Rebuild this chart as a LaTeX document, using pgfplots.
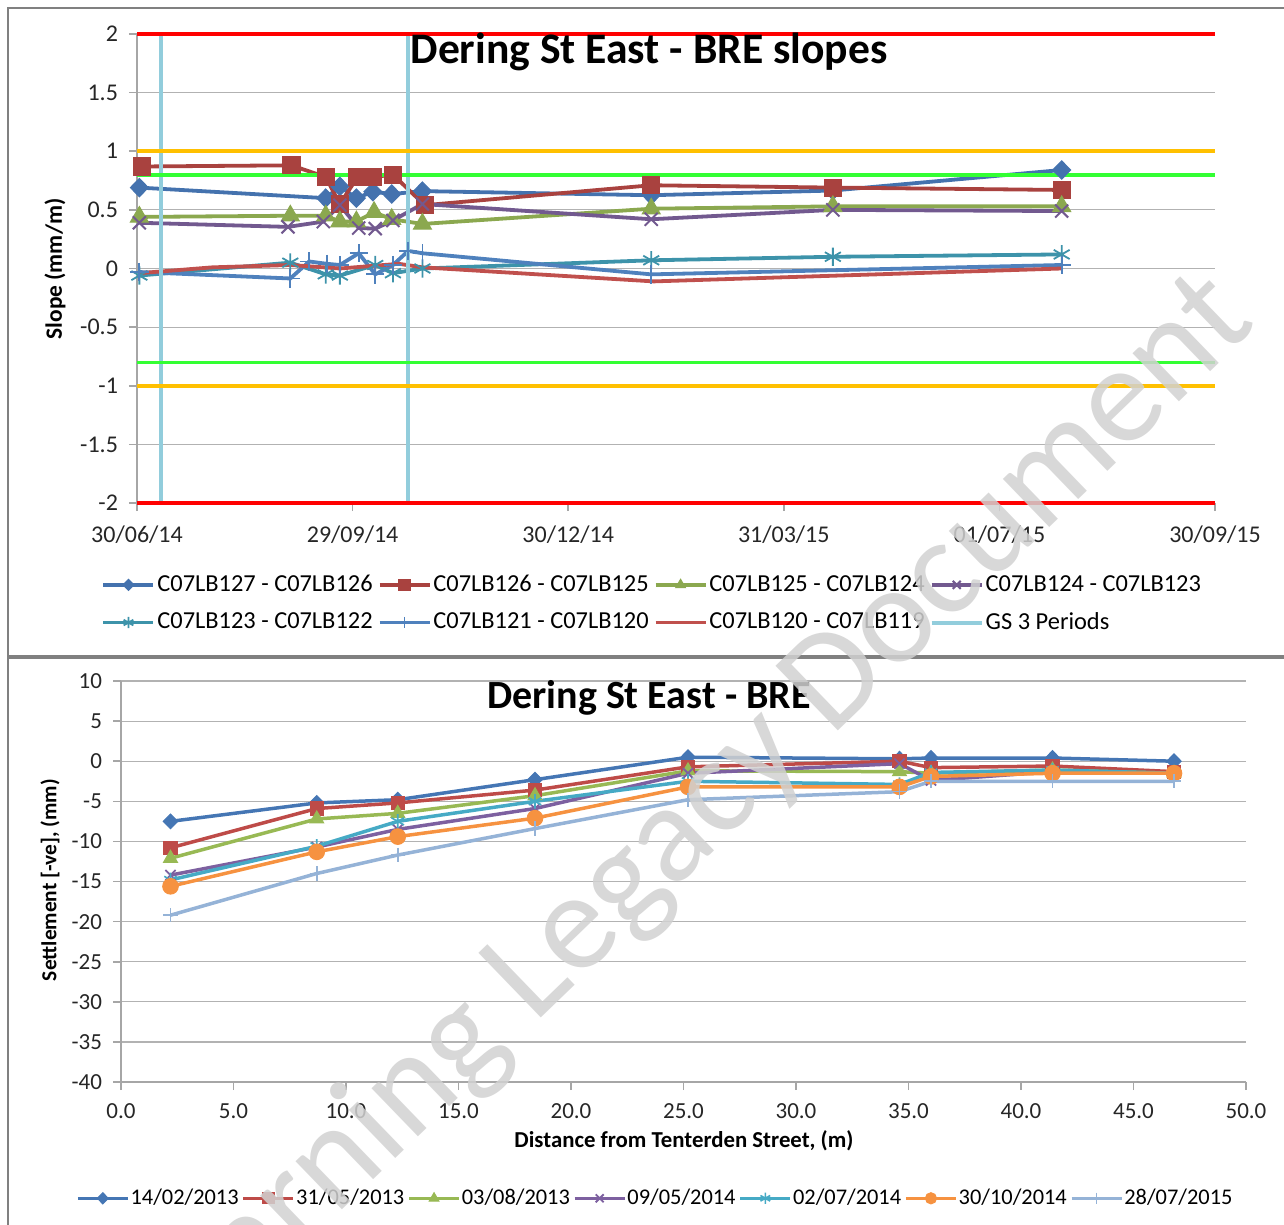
\documentclass[border=0pt]{standalone}
\usepackage{pgfplots}
\pgfplotsset{compat=1.18}
\usepackage{fontspec}
\setmainfont{Carlito}

\definecolor{tA}{HTML}{4472AE}
\definecolor{tB}{HTML}{A9423F}
\definecolor{tC}{HTML}{8BA84F}
\definecolor{tD}{HTML}{72598F}
\definecolor{tE}{HTML}{3D93AA}
\definecolor{tF}{HTML}{4F81BD}
\definecolor{tG}{HTML}{C0504D}
\definecolor{gs}{HTML}{92CDDC}
\definecolor{thr}{HTML}{FF0000}
\definecolor{tho}{HTML}{FFC000}
\definecolor{thg}{HTML}{33FF33}
\definecolor{bA}{HTML}{4576B4}
\definecolor{bB}{HTML}{BE4B48}
\definecolor{bC}{HTML}{98B954}
\definecolor{bD}{HTML}{7D60A0}
\definecolor{bE}{HTML}{46AAC5}
\definecolor{bF}{HTML}{F69240}
\definecolor{bG}{HTML}{95B3D7}

\pgfplotsset{
  excel/.style={
    scale only axis,
    axis x line=bottom, axis y line=left,
    axis line style={draw=black!35, line width=0.8pt, -},
    tick style={draw=black!35, line width=0.8pt},
    tick align=outside, major tick length=4pt,
    ymajorgrids, grid style={black!30, line width=0.6pt},
    tick label style={font=\fontsize{12}{14}\selectfont, text=black!85},
    /pgf/number format/assume math mode=true,
    clip=false,
    legend cell align=left,
    legend image code/.code={\draw[mark repeat=2,mark phase=2,##1] plot coordinates {(0pt,0pt) (12.5pt,0pt) (25pt,0pt)};},
    every legend image post/.style={mark size=2.8pt},
  },
}

\begin{document}
\begin{tikzpicture}
\path[use as bounding box] (0,0) rectangle (642pt,-612.5pt);
\clip (0,0) rectangle (642pt,-612.5pt);

% frames
\draw[black!50, line width=1pt] (4pt,-612.5pt) -- (4pt,-4pt) -- (642pt,-4pt);
\draw[black!50, line width=1.6pt] (4pt,-328.5pt) -- (642pt,-328.5pt);

% ---------------- top chart ----------------
\begin{axis}[excel,
  at={(68.5pt,-251.5pt)}, anchor=south west,
  width=539pt, height=234.5pt,
  xmin=0, xmax=457, ymin=-2, ymax=2,
  xtick={0,91.4,182.8,274.2,365.6,457},
  xticklabels={30/06/14,29/09/14,30/12/14,31/03/15,01/07/15,30/09/15},
  ytick={-2,-1.5,-1,-0.5,0,0.5,1,1.5,2},
  yticklabel style={/pgf/number format/fixed, xshift=-2pt},
  xticklabel style={yshift=-4pt},
  legend columns=4,
  legend style={at={(0.478,-0.215)}, anchor=center, draw=none, fill=none,
    font=\fontsize{12.2}{14}\selectfont, row sep=7pt,
    nodes={inner sep=1pt},
    /tikz/every even column/.append style={column sep=1.5pt},
    /tikz/every odd column/.append style={column sep=0pt}},
]
\addplot[tA, line width=1.9pt, mark=diamond*, mark size=4.6pt, mark options={fill=tA, line width=0.5pt, xscale=1.3}]
  coordinates {(1,0.69) (80,0.60) (86,0.70) (93,0.60) (100,0.655) (108,0.635) (121,0.66) (218,0.625) (295,0.665) (392,0.84)};
\addlegendentry{C07LB127 - C07LB126}
\addplot[tB, line width=1.9pt, mark=square*, mark size=4.3pt, mark options={fill=tB, line width=0.5pt}]
  coordinates {(2,0.87) (65.5,0.88) (80,0.78) (86,0.55) (93.5,0.78) (100,0.78) (108.5,0.80) (122,0.54) (218,0.71) (295,0.69) (392,0.67)};
\addlegendentry{C07LB126 - C07LB125}
\addplot[tC, line width=1.9pt, mark=triangle*, mark size=5.2pt, mark options={fill=tC, line width=0.5pt}]
  coordinates {(1,0.44) (65,0.45) (80,0.45) (86,0.40) (93,0.40) (100.5,0.48) (108,0.42) (121,0.38) (218,0.51) (295,0.53) (392,0.53)};
\addlegendentry{C07LB125 - C07LB124}
\addplot[tD, line width=1.9pt, mark=x, mark size=4.6pt, mark options={line width=1pt}]
  coordinates {(1,0.39) (64,0.355) (79,0.40) (86,0.54) (94,0.345) (101,0.34) (108.5,0.41) (121,0.55) (218,0.42) (295,0.50) (392,0.49)};
\addlegendentry{C07LB124 - C07LB123}
\addplot[tE, line width=1.9pt, mark=asterisk, mark size=4.6pt, mark options={line width=0.9pt}]
  coordinates {(1,-0.06) (65,0.05) (80,-0.05) (86,-0.06) (101,0.03) (108.5,-0.04) (121,0.0) (218,0.07) (295,0.10) (392,0.12)};
\addlegendentry{C07LB123 - C07LB122}
\addplot[tF, line width=1.9pt, mark=+, mark size=4.6pt, mark options={line width=0.9pt}]
  coordinates {(1,-0.03) (65,-0.085) (73,0.06) (80.5,0.04) (86,0.03) (94,0.13) (101,-0.05) (108.5,0.03) (115,0.15) (121,0.13) (218,-0.05) (392,0.03)};
\addlegendentry{C07LB121 - C07LB120}
\addplot[tG, line width=1.9pt]
  coordinates {(1,-0.04) (32,0.01) (65,0.03) (86,0.0) (111,0.04) (121,0.01) (219,-0.11) (392,0.0)};
\addlegendentry{C07LB120 - C07LB119}
\addplot[gs, line width=2pt, unbounded coords=jump]
  coordinates {(10,2) (10,-2) (10,nan) (115,-2) (115,2)};
\addlegendentry{GS 3 Periods}
% threshold lines
\addplot[thr, line width=1.8pt, forget plot] coordinates {(0,2) (457,2)};
\addplot[thr, line width=1.8pt, forget plot] coordinates {(0,-2) (457,-2)};
\addplot[tho, line width=1.8pt, forget plot] coordinates {(0,1) (457,1)};
\addplot[tho, line width=1.8pt, forget plot] coordinates {(0,-1) (457,-1)};
\addplot[thg, line width=1.8pt, forget plot] coordinates {(0,0.8) (457,0.8)};
\addplot[thg, line width=1.8pt, forget plot] coordinates {(0,-0.8) (457,-0.8)};
\end{axis}

\node[font=\fontsize{21.8}{24}\selectfont\bfseries] at (324.5pt,-26pt) {Dering St East - BRE slopes};
\node[rotate=90, font=\fontsize{11.7}{13}\selectfont\bfseries] at (27.5pt,-134.5pt) {Slope (mm/m)};

% ---------------- bottom chart ----------------
\begin{axis}[excel,
  at={(60.5pt,-541pt)}, anchor=south west,
  width=562.5pt, height=200.5pt,
  xmin=0, xmax=50, ymin=-40, ymax=10,
  xtick={0,5,...,50}, ytick={-40,-35,...,10},
  tick label style={font=\fontsize{11.5}{13}\selectfont, text=black!85},
  xticklabel style={/pgf/number format/fixed, /pgf/number format/fixed zerofill, /pgf/number format/precision=1, yshift=-3pt},
  yticklabel style={xshift=-2pt},
  legend columns=7,
  legend style={at={(0.474,-0.29)}, anchor=center, draw=none, fill=none,
    font=\fontsize{11.2}{13}\selectfont,
    nodes={inner sep=0pt},
    /tikz/every even column/.append style={column sep=1.5pt},
    /tikz/every odd column/.append style={column sep=0.5pt}},
]
\addplot[bA, line width=1.75pt, mark=diamond*, mark size=3.7pt, mark options={fill=bA, line width=0.5pt, xscale=1.3}]
  coordinates {(2.2,-7.5) (8.7,-5.2) (12.3,-4.8) (18.4,-2.3) (25.2,0.5) (34.6,0.3) (36.0,0.4) (41.4,0.4) (46.8,0.0)};
\addlegendentry{14/02/2013}
\addplot[bB, line width=1.75pt, mark=square*, mark size=3.3pt, mark options={fill=bB, line width=0.5pt}]
  coordinates {(2.2,-10.8) (8.7,-5.9) (12.3,-5.2) (18.4,-3.6) (25.2,-0.7) (34.6,0.0) (36.0,-0.8) (41.4,-0.6) (46.8,-1.3)};
\addlegendentry{31/05/2013}
\addplot[bC, line width=1.75pt, mark=triangle*, mark size=4pt, mark options={fill=bC, line width=0.5pt}]
  coordinates {(2.2,-12.1) (8.7,-7.2) (12.3,-6.5) (18.4,-4.3) (25.2,-1.2) (34.6,-1.3) (36.0,-1.5) (41.4,-1.1) (46.8,-1.5)};
\addlegendentry{03/08/2013}
\addplot[bD, line width=1.75pt, mark=x, mark size=3.6pt, mark options={line width=0.9pt}]
  coordinates {(2.2,-14.2) (8.7,-10.7) (12.3,-8.5) (18.4,-5.9) (25.2,-1.5) (34.6,-0.3) (36.0,-2.4) (41.4,-1.3) (46.8,-1.5)};
\addlegendentry{09/05/2014}
\addplot[bE, line width=1.75pt, mark=asterisk, mark size=3.6pt, mark options={line width=0.8pt}]
  coordinates {(2.2,-14.8) (8.7,-10.6) (12.3,-7.5) (18.4,-5.0) (25.2,-2.5) (34.6,-2.9) (36.0,-1.4) (41.4,-1.1) (46.8,-1.5)};
\addlegendentry{02/07/2014}
\addplot[bF, line width=1.75pt, mark=*, mark size=3.9pt, mark options={fill=bF, line width=0.5pt}]
  coordinates {(2.2,-15.6) (8.7,-11.3) (12.3,-9.4) (18.4,-7.1) (25.2,-3.2) (34.6,-3.2) (36.0,-1.9) (41.4,-1.5) (46.8,-1.5)};
\addlegendentry{30/10/2014}
\addplot[bG, line width=1.75pt, mark=+, mark size=3.6pt, mark options={line width=0.8pt}]
  coordinates {(2.2,-19.2) (8.7,-14.0) (12.3,-11.7) (18.4,-8.4) (25.2,-4.8) (34.6,-3.8) (36.0,-2.5) (41.4,-2.5) (46.8,-2.5)};
\addlegendentry{28/07/2015}
\end{axis}

\node[font=\fontsize{20}{22}\selectfont\bfseries] at (324.5pt,-349pt) {Dering St East - BRE};
\node[rotate=90, font=\fontsize{10.7}{12}\selectfont\bfseries] at (25pt,-440pt) {Settlement [-ve], (mm)};
\node[font=\fontsize{11.4}{13}\selectfont\bfseries] at (342pt,-570.5pt) {Distance from Tenterden Street, (m)};

% watermark
\node[rotate=44, text=black!18, text opacity=0.85, font=\fontsize{70}{74}\selectfont] at (342pt,-415pt) {Learning Legacy Document};
\end{tikzpicture}
\end{document}
